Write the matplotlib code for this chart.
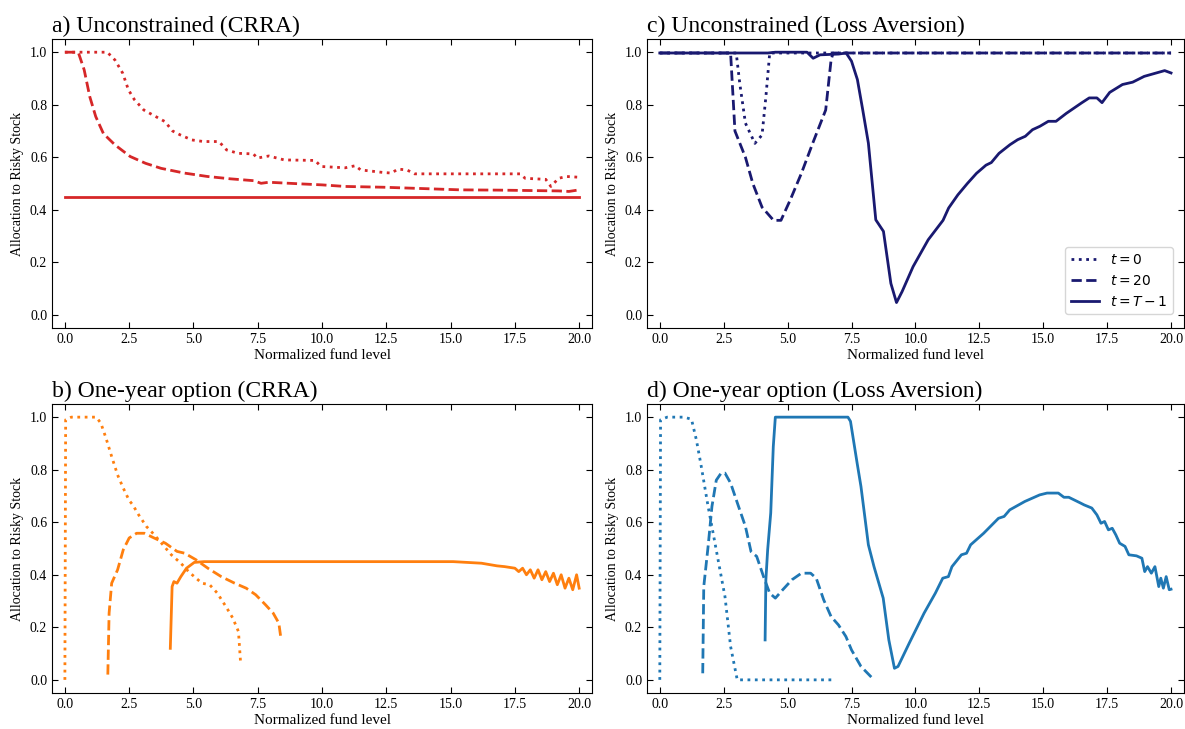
import matplotlib
matplotlib.use("Agg")
import matplotlib.pyplot as plt
import numpy as np

plt.rcParams['font.family'] = ['Liberation Serif', 'DejaVu Serif']
plt.rcParams['mathtext.fontset'] = 'dejavusans'

# ---- a) Unconstrained (CRRA) ----
a_x0 = [0, 1.65, 1.95, 2.25, 2.47, 2.7, 3.07, 3.44, 3.89, 4.19, 4.49, 4.94, 5.39, 5.99,
        6.29, 6.74, 7.33, 7.48, 7.93, 8.53, 9.73, 9.96, 10.9, 11.3, 11.5, 12.4, 12.7,
        12.95, 13.3, 13.6, 17.7, 17.9, 18.7, 18.9, 19.2, 19.5, 20.0]
a_y0 = [1.0, 1.0, 0.97, 0.92, 0.857, 0.82, 0.78, 0.76, 0.736, 0.70, 0.685, 0.666, 0.66, 0.66,
        0.628, 0.615, 0.613, 0.597, 0.605, 0.59, 0.588, 0.565, 0.56, 0.568, 0.552, 0.542, 0.54,
        0.555, 0.552, 0.537, 0.537, 0.52, 0.516, 0.489, 0.52, 0.527, 0.524]
a_x20 = [0, 0.52, 0.75, 0.97, 1.2, 1.5, 1.95, 2.54, 3.14, 3.74, 4.64, 5.54, 6.44, 7.34,
         7.63, 7.93, 9.13, 10.0, 10.9, 12.4, 13.9, 15.4, 16.9, 19.2, 19.6, 20.0]
a_y20 = [1.0, 1.0, 0.933, 0.83, 0.755, 0.69, 0.647, 0.603, 0.577, 0.558, 0.54, 0.527, 0.518, 0.511,
         0.501, 0.505, 0.499, 0.495, 0.489, 0.486, 0.481, 0.476, 0.475, 0.472, 0.47, 0.476]
a_xT = [0, 20.0]
a_yT = [0.45, 0.45]

# ---- b) One-year option (CRRA) ----
b_x0 = [0, 0.03, 0.25, 1.22, 1.4, 1.6, 1.82, 2.05, 2.27, 2.5, 2.64, 2.87, 3.17, 3.47, 3.76,
        4.14, 4.51, 4.81, 5.03, 5.33, 5.63, 5.93, 6.3, 6.53, 6.75, 6.83]
b_y0 = [0.0, 0.99, 1.0, 1.0, 0.977, 0.92, 0.85, 0.78, 0.73, 0.683, 0.666, 0.628, 0.584, 0.553, 0.52,
        0.476, 0.444, 0.412, 0.393, 0.368, 0.362, 0.33, 0.273, 0.235, 0.184, 0.07]
b_x20 = [1.67, 1.72, 1.82, 2.05, 2.27, 2.5, 2.79, 3.09, 3.47, 3.91, 4.36, 4.66, 5.1, 5.56,
         6.08, 6.6, 7.05, 7.42, 7.8, 8.1, 8.32, 8.4]
b_y20 = [0.02, 0.254, 0.368, 0.419, 0.495, 0.54, 0.558, 0.558, 0.54, 0.52, 0.489, 0.482, 0.457, 0.425,
         0.393, 0.368, 0.349, 0.324, 0.286, 0.254, 0.216, 0.159]
b_xT = [4.1, 4.17, 4.24, 4.36, 4.51, 4.73, 5.03, 5.41, 15.1, 16.2, 16.8, 17.1, 17.5,
        17.65, 17.8, 17.95, 18.1, 18.25, 18.4, 18.55, 18.7, 18.85, 19.0, 19.15, 19.3,
        19.45, 19.6, 19.75, 19.9, 20.0]
b_yT = [0.12, 0.355, 0.374, 0.368, 0.393, 0.425, 0.447, 0.45, 0.45, 0.444, 0.434, 0.431, 0.425,
        0.412, 0.425, 0.40, 0.419, 0.387, 0.419, 0.381, 0.412, 0.374, 0.406, 0.362, 0.40,
        0.349, 0.387, 0.343, 0.40, 0.349]

# ---- c) Unconstrained (Loss Aversion) ----
c_x0 = [0, 2.99, 3.13, 3.35, 3.72, 4.0, 4.15, 4.3, 20.0]
c_y0 = [0.997, 0.997, 0.88, 0.73, 0.653, 0.685, 0.83, 0.997, 0.997]
c_x20 = [0, 2.77, 2.94, 3.35, 3.64, 4.0, 4.45, 4.74, 5.1, 5.54, 5.98, 6.49, 6.7, 6.78, 20.0]
c_y20 = [0.997, 0.997, 0.70, 0.60, 0.50, 0.41, 0.36, 0.36, 0.437, 0.539, 0.653, 0.78, 0.97, 0.997, 0.997]
c_xT = [0, 4.23, 4.52, 5.76, 6.0, 6.27, 7.0, 7.29, 7.5, 7.73, 7.94, 8.16, 8.45, 8.75, 9.04,
        9.26, 9.48, 9.91, 10.5, 11.08, 11.3, 11.66, 12.03, 12.39, 12.76, 12.97, 13.27, 13.7,
        14.0, 14.3, 14.58, 14.87, 15.2, 15.5, 15.9, 16.2, 16.5, 16.8, 17.1, 17.3, 17.6,
        18.1, 18.5, 18.95, 19.75, 20.0]
c_yT = [0.997, 0.997, 1.0, 1.0, 0.977, 0.99, 0.993, 0.997, 0.966, 0.896, 0.78, 0.654, 0.362, 0.318, 0.12,
        0.047, 0.089, 0.184, 0.286, 0.36, 0.407, 0.457, 0.50, 0.539, 0.57, 0.58, 0.615, 0.648,
        0.667, 0.68, 0.705, 0.718, 0.737, 0.737, 0.767, 0.787, 0.807, 0.826, 0.826, 0.808, 0.847,
        0.877, 0.886, 0.908, 0.93, 0.921]

# ---- d) One-year option (Loss Aversion) ----
d_x0 = [0, 0.03, 0.29, 0.95, 1.24, 1.43, 1.6, 1.89, 2.11, 2.33, 2.55, 2.77, 3.03, 6.77]
d_y0 = [0.0, 0.99, 1.0, 1.0, 0.992, 0.914, 0.825, 0.66, 0.546, 0.431, 0.317, 0.127, 0.0, 0.0]
d_x20 = [1.68, 1.72, 1.89, 2.04, 2.21, 2.4, 2.55, 2.77, 3.06, 3.35, 3.57, 3.79, 4.08, 4.3,
         4.52, 4.81, 5.17, 5.54, 5.9, 6.12, 6.41, 6.7, 6.99, 7.28, 7.5, 7.87, 8.38]
d_y20 = [0.025, 0.355, 0.508, 0.66, 0.76, 0.787, 0.787, 0.749, 0.666, 0.584, 0.488, 0.47, 0.387, 0.33,
         0.311, 0.343, 0.381, 0.406, 0.406, 0.387, 0.305, 0.241, 0.209, 0.165, 0.114, 0.051, 0.0]
d_xT = [4.12, 4.15, 4.22, 4.34, 4.44, 4.52, 7.36, 7.46, 7.72, 7.87, 8.16, 8.38, 8.74, 8.96,
        9.18, 9.32, 9.76, 10.34, 10.78, 11.07, 11.29, 11.43, 11.8, 12.0, 12.16, 12.67, 13.25,
        13.47, 13.69, 14.28, 14.86, 15.15, 15.59, 15.81, 16.0, 16.46, 16.6, 16.9, 17.1, 17.26,
        17.4, 17.55, 17.7, 17.84, 17.99, 18.2, 18.35, 18.65, 18.86, 18.97, 19.08, 19.23, 19.37,
        19.52, 19.6, 19.7, 19.81, 19.93, 20.0]
d_yT = [0.152, 0.381, 0.495, 0.635, 0.888, 1.0, 1.0, 0.984, 0.825, 0.736, 0.514, 0.431, 0.311, 0.152,
        0.044, 0.051, 0.14, 0.254, 0.33, 0.387, 0.393, 0.431, 0.476, 0.482, 0.514, 0.558, 0.615,
        0.622, 0.647, 0.679, 0.704, 0.711, 0.711, 0.695, 0.695, 0.673, 0.666, 0.654, 0.628, 0.596,
        0.603, 0.571, 0.577, 0.552, 0.52, 0.508, 0.476, 0.472, 0.463, 0.412, 0.431, 0.406, 0.431,
        0.355, 0.387, 0.349, 0.393, 0.343, 0.345]

panels = [
    ("a) Unconstrained (CRRA)", "#d62728", [(a_x0, a_y0), (a_x20, a_y20), (a_xT, a_yT)],
     [0.0439, 0.550, 0.4557, 0.3964], False),
    ("b) One-year option (CRRA)", "#ff7f0e", [(b_x0, b_y0), (b_x20, b_y20), (b_xT, b_yT)],
     [0.0439, 0.0494, 0.4557, 0.3964], False),
    ("c) Unconstrained (Loss Aversion)", "#191970", [(c_x0, c_y0), (c_x20, c_y20), (c_xT, c_yT)],
     [0.546, 0.550, 0.453, 0.3964], True),
    ("d) One-year option (Loss Aversion)", "#1f77b4", [(d_x0, d_y0), (d_x20, d_y20), (d_xT, d_yT)],
     [0.546, 0.0494, 0.453, 0.3964], False),
]
styles = [':', '--', '-']
labels = ['$t=0$', '$t=20$', '$t=T-1$']

fig = plt.figure(figsize=(11.85, 7.29), dpi=100)
for title, color, series, rect, show_legend in panels:
    ax = fig.add_axes(rect)
    for (xs, ys), ls, lab in zip(series, styles, labels):
        ax.plot(xs, ys, color=color, linestyle=ls, linewidth=2.0, label=lab)
    ax.set_xlim(-0.5, 20.5)
    ax.set_ylim(-0.05, 1.05)
    ax.set_xticks(np.arange(0, 20.1, 2.5))
    ax.set_yticks(np.arange(0, 1.01, 0.2))
    ax.tick_params(direction='in', top=True, right=True, labelsize=10, length=4)
    ax.set_xlabel("Normalized fund level", fontsize=11, labelpad=2)
    ax.set_ylabel("Allocation to Risky Stock", fontsize=10)
    ax.set_title(title, loc='left', fontsize=17, pad=5)
    if show_legend:
        ax.legend(loc='lower right', fontsize=10, bbox_to_anchor=(0.9925, 0.024))

fig.savefig("out.png", dpi=100)
